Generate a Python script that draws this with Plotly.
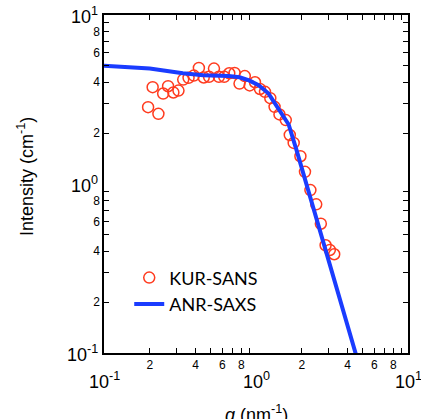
import math
import plotly.graph_objects as go

# KUR-SANS data (open circles)
q_sans = [0.195, 0.209, 0.228, 0.245, 0.264, 0.286, 0.309, 0.332, 0.360, 0.390,
          0.421, 0.453, 0.491, 0.529, 0.570, 0.618, 0.667, 0.723, 0.779, 0.844,
          0.909, 0.985, 1.062, 1.146, 1.242, 1.325, 1.427, 1.570, 1.668, 1.77,
          1.96, 2.10, 2.28, 2.49, 2.67, 2.87, 3.06, 3.27]
I_sans = [2.85, 3.74, 2.60, 3.43, 3.79, 3.48, 3.57, 4.15, 4.25, 4.38,
          4.86, 4.27, 4.31, 4.82, 4.31, 4.31, 4.52, 4.54, 3.93, 4.35,
          3.83, 4.00, 3.65, 3.51, 3.22, 2.86, 2.58, 2.39, 1.95, 1.75,
          1.46, 1.18, 0.920, 0.758, 0.582, 0.434, 0.407, 0.384]

# ANR-SAXS curve
q_saxs = [0.1, 0.2, 0.33, 0.45, 0.66, 0.78, 0.9, 1.04, 1.21, 1.34, 1.48, 1.64,
          1.85, 2.1, 2.64, 3.3, 4.51, 5.0]
I_saxs = [5.00, 4.82, 4.52, 4.40, 4.36, 4.28, 4.10, 3.84, 3.43, 3.00, 2.61, 2.25,
          1.58, 1.07, 0.533, 0.27, 0.1, 0.073]

decades = [0.1, 1, 10]
labeled_digits = [2, 4, 6, 8]
unlabeled_digits = [3, 5, 7, 9]

label_vals = [d * m for d in [0.1, 1] for m in labeled_digits]
label_text = [str(m) for d in [0.1, 1] for m in labeled_digits]
short_vals = [d * m for d in [0.1, 1] for m in unlabeled_digits]

fig = go.Figure()
fig.add_trace(go.Scatter(
    x=q_sans, y=I_sans, mode="markers", name="KUR-SANS",
    marker=dict(symbol="circle-open", size=11, color="#ff3b1f",
                line=dict(width=1.5, color="#ff3b1f")),
))
fig.add_trace(go.Scatter(
    x=q_saxs, y=I_saxs, mode="lines", name="ANR-SAXS",
    line=dict(color="#1a3cff", width=4),
))

axis_common = dict(
    type="log",
    range=[-1, 1],
    tickvals=label_vals,
    ticktext=label_text,
    ticks="inside",
    ticklen=5,
    tickwidth=1,
    tickcolor="black",
    showline=True,
    linewidth=1.5,
    linecolor="black",
    mirror="ticks",
    showgrid=False,
    zeroline=False,
    tickfont=dict(family="Liberation Sans, Arial", size=12, color="black"),
    minor=dict(tickvals=short_vals, ticks="inside", ticklen=5, tickwidth=1,
               tickcolor="black", showgrid=False),
)

decade_axis = dict(
    type="log",
    range=[-1, 1],
    tickvals=decades,
    ticks="inside",
    ticklen=9,
    tickwidth=1.2,
    tickcolor="black",
    showticklabels=False,
    showline=False,
    mirror="ticks",
    showgrid=False,
    zeroline=False,
)

fig.update_layout(
    width=421, height=419,
    margin=dict(l=104, r=11, t=15, b=66),
    paper_bgcolor="white",
    plot_bgcolor="white",
    xaxis=axis_common,
    yaxis=axis_common,
    xaxis2=dict(overlaying="x", anchor="y", side="bottom", **decade_axis),
    yaxis2=dict(overlaying="y", anchor="x", side="left", **decade_axis),
    showlegend=True,
    legend=dict(x=0.083, y=0.277, xanchor="left", yanchor="top",
                bgcolor="rgba(0,0,0,0)",
                font=dict(family="Lato", size=18, color="black"),
                tracegroupgap=0),
)

font_big = dict(family="Liberation Sans, Arial", size=18, color="black")
for d in decades:
    e = int(round(math.log10(d)))
    fig.add_annotation(x=0, xref="paper", y=e, yref="y", xanchor="right",
                       yanchor="middle", xshift=-4, showarrow=False,
                       text="10<sup>%d</sup>" % e, font=font_big)
    fig.add_annotation(x=e, xref="x", y=0, yref="paper", xanchor="center",
                       yanchor="top", yshift=-14, showarrow=False,
                       text="10<sup>%d</sup>" % e, font=font_big)

fig.add_annotation(x=0.5, xref="paper", y=0, yref="paper", xanchor="center",
                   yanchor="top", yshift=-47, showarrow=False,
                   text="<i>q</i> (nm<sup>-1</sup>)", font=font_big)
fig.add_annotation(x=0, xref="paper", y=0.5, yref="paper", xanchor="center",
                   yanchor="middle", xshift=-79, yshift=7, showarrow=False,
                   textangle=-90,
                   text="Intensity (cm<sup>-1</sup>)", font=font_big)

fig.write_html("out.html")
